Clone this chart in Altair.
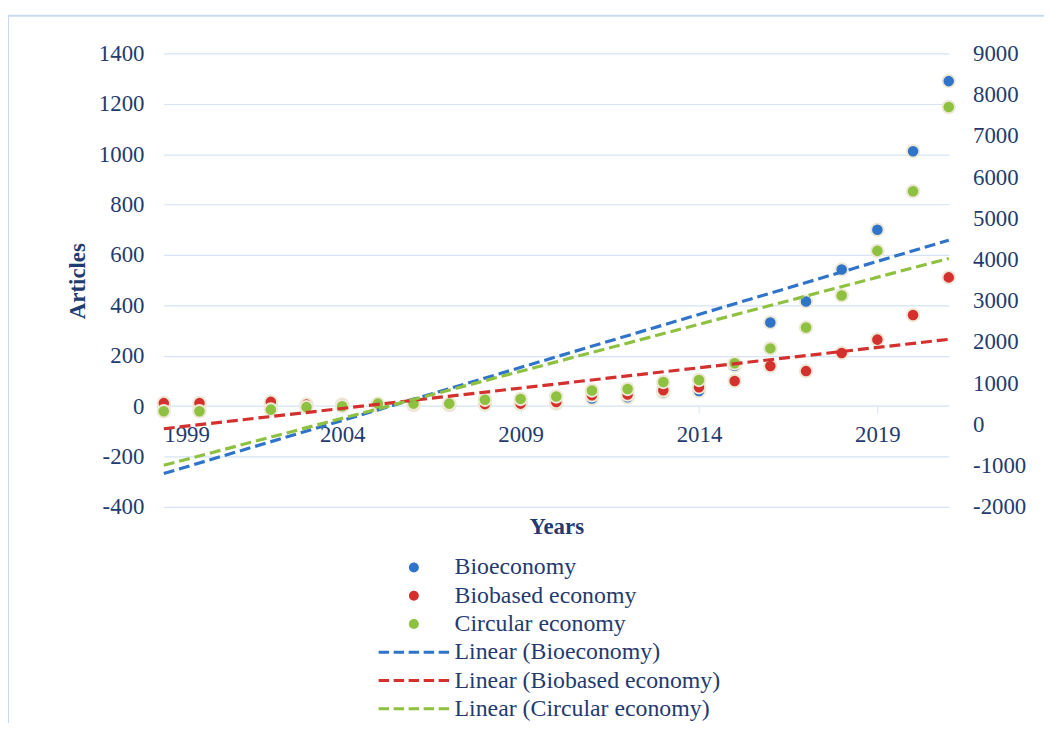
import altair as alt
import pandas as pd

# ---------------- data ----------------
years = [1999, 2000, 2002, 2003, 2004, 2005, 2006, 2007, 2008, 2009, 2010,
         2011, 2012, 2013, 2014, 2015, 2016, 2017, 2018, 2019, 2020, 2021]
bioeconomy = [2, 2, 3, 3, 4, 4, 5, 5, 6, 8, 10,
              30, 35, 55, 60, 160, 332, 415, 542, 700, 1012, 1290]
biobased = [12, 12, 17, 6, 6, 5, 5, 5, 8, 10, 16,
            43, 46, 63, 75, 100, 159, 139, 211, 264, 362, 511]
circular = [320, 320, 360, 420, 440, 505, 505, 505, 600, 620, 680,
            825, 860, 1030, 1080, 1485, 1845, 2350, 3130, 4210, 5655, 7700]

series_names = ["Bioeconomy", "Biobased economy", "Circular economy"]
trend_names = ["Linear (Bioeconomy)", "Linear (Biobased economy)", "Linear (Circular economy)"]
series_colors = ["#2F74C8", "#D3302E", "#8DC13F"]

x_ticks = [1999, 2004, 2009, 2014, 2019]
left_ticks = [-400, -200, 0, 200, 400, 600, 800, 1000, 1200, 1400]
right_ticks = [-2000, -1000, 0, 1000, 2000, 3000, 4000, 5000, 6000, 7000, 8000, 9000]

# ---------------- styling ----------------
FONT = "Liberation Serif"
TXT = "#1F3B70"
GRID = "#D5E3F5"
FS = 23
LFS = 24

CIRCLE = "M-7.1,0M7.1,0M-1,0A1,1,0,1,1,1,0A1,1,0,1,1,-1,0Z"
DASH = ("M-7.1,-0.3H-5V0.3H-7.1Z M-4.075,-0.3H-1.975V0.3H-4.075Z "
        "M-1.05,-0.3H1.05V0.3H-1.05Z M1.975,-0.3H4.075V0.3H1.975Z M5,-0.3H7.1V0.3H5Z")

legend_domain = series_names + trend_names
color_scale = alt.Scale(domain=legend_domain, range=series_colors + series_colors)
shape_scale = alt.Scale(domain=legend_domain, range=[CIRCLE] * 3 + [DASH] * 3)

left_df = pd.DataFrame({
    "Year": years + years,
    "Value": bioeconomy + biobased,
    "Series": [series_names[0]] * len(years) + [series_names[1]] * len(years),
})
right_df = pd.DataFrame({
    "Year": years,
    "Value": circular,
    "Series": [series_names[2]] * len(years),
})

x_scale = alt.Scale(domain=[1999, 2021], nice=False, zero=False)
left_scale = alt.Scale(domain=[-400, 1400], nice=False, zero=False)
right_scale = alt.Scale(domain=[-2000, 9000], nice=False, zero=False)

legend = alt.Legend(
    title=None, orient="none", legendX=240, legendY=506, direction="vertical",
    labelFont=FONT, labelFontSize=LFS, labelColor=TXT, labelLimit=500,
    labelOffset=29, rowPadding=4.5, symbolSize=100, symbolStrokeWidth=0,
    symbolOpacity=1, padding=0,
)

x_axis = alt.Axis(
    values=x_ticks, labelExpr="'' + datum.value", title="Years",
    offset=-101.6, domain=False, grid=False, ticks=True, tickSize=7,
    tickColor=GRID, labelFont=FONT, labelFontSize=FS, labelColor=TXT,
    labelPadding=11, titleFont=FONT, titleFontSize=FS, titleFontWeight="bold",
    titleColor=TXT, titleY=121, titleBaseline="middle",
)
left_axis = alt.Axis(
    values=left_ticks, labelExpr="'' + datum.value", title="Articles",
    grid=True, gridColor=GRID, gridWidth=1.2, domain=False, ticks=False,
    labelPadding=20, labelFont=FONT, labelFontSize=FS, labelColor=TXT,
    titleFont=FONT, titleFontSize=FS, titleFontWeight="bold", titleColor=TXT,
    titleX=-87, titleY=229, titleBaseline="middle",
)
right_axis = alt.Axis(
    orient="right", values=right_ticks, labelExpr="'' + datum.value", title=None,
    grid=False, domain=False, ticks=False, labelPadding=24,
    labelFont=FONT, labelFontSize=FS, labelColor=TXT,
)

point_mark = dict(filled=True, size=159, opacity=1, stroke="#EEE8D6", strokeWidth=2)
X = alt.X("Year:Q", scale=x_scale, axis=x_axis)

left_points = alt.Chart(left_df).mark_point(**point_mark).encode(
    x=X,
    y=alt.Y("Value:Q", scale=left_scale, axis=left_axis),
    color=alt.Color("Series:N", scale=color_scale, legend=legend),
    shape=alt.Shape("Series:N", scale=shape_scale, legend=legend),
)

right_points = alt.Chart(right_df).mark_point(**point_mark).encode(
    x=X,
    y=alt.Y("Value:Q", scale=right_scale, axis=right_axis),
    color=alt.Color("Series:N", scale=color_scale, legend=legend),
    shape=alt.Shape("Series:N", scale=shape_scale, legend=legend),
)

line_mark = dict(strokeDash=[11, 5], strokeWidth=3.2, opacity=1)

left_lines = alt.Chart(left_df).transform_regression(
    "Year", "Value", groupby=["Series"], extent=[1999, 2021]
).transform_calculate(
    Series="'Linear (' + datum.Series + ')'"
).mark_line(**line_mark).encode(
    x=X,
    y=alt.Y("Value:Q", scale=left_scale, axis=None),
    color=alt.Color("Series:N", scale=color_scale, legend=None),
)

right_lines = alt.Chart(right_df).transform_regression(
    "Year", "Value", groupby=["Series"], extent=[1999, 2021]
).transform_calculate(
    Series="'Linear (' + datum.Series + ')'"
).mark_line(**line_mark).encode(
    x=X,
    y=alt.Y("Value:Q", scale=right_scale, axis=None),
    color=alt.Color("Series:N", scale=color_scale, legend=None),
)

frame = alt.Chart(pd.DataFrame({"k": [0]})).mark_rect(
    fillOpacity=0, stroke="#C9DAF0", strokeWidth=2
).encode(
    x=alt.value(-157), x2=alt.value(900), y=alt.value(-38), y2=alt.value(700)
)

chart = alt.layer(
    frame, left_points, right_points, left_lines, right_lines
).resolve_scale(
    y="independent"
).properties(
    width=791, height=457,
    autosize=alt.AutoSizeParams(type="none"),
    padding={"left": 157, "top": 43, "right": 96, "bottom": 215},
    background="white",
).configure_view(stroke=None)

chart.save("out.html", embed_options={"renderer": "svg", "actions": False})
